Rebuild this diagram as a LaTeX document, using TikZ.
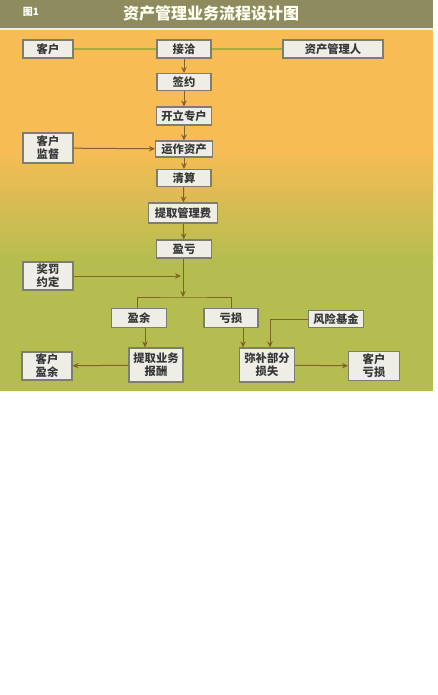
\documentclass[tikz,border=0pt]{standalone}
\usepackage{fontspec}
\newfontfamily\cjk{Noto Sans CJK SC}
\usetikzlibrary{arrows.meta}
\definecolor{banner}{HTML}{8E8C5E}
\definecolor{orng}{HTML}{F8BC55}
\definecolor{grn}{HTML}{B5BD50}
\definecolor{boxfill}{HTML}{EEEEE6}
\definecolor{boxline}{HTML}{7E7E70}
\definecolor{connc}{HTML}{806428}
\definecolor{topline}{HTML}{A8AC3C}
\definecolor{txt}{HTML}{383838}
\begin{document}
\begin{tikzpicture}[x=1pt,y=-1pt,
  box/.style={draw=boxline, fill=boxfill, line width=1.1pt, inner sep=0pt,
    font=\cjk\bfseries\fontsize{11.3}{13}\selectfont, text=txt, align=center},
  conn/.style={draw=connc, line width=1pt},
  arr/.style={conn, -{Stealth[length=6pt,width=5.5pt]}}]
\useasboundingbox (0,0) rectangle (437,695);
\fill[white] (0,0) rectangle (437,695);
% background
\fill[banner] (0,0) rectangle (433,28);
\fill[orng] (0,30) rectangle (433,150);
\shade[top color=orng, bottom color=grn] (0,149.5) rectangle (433,260.5);
\fill[grn] (0,260) rectangle (433,391);
\fill[white!85!banner] (0,28) rectangle (433,30);
% titles
\node[font=\cjk\bfseries\fontsize{10}{11}\selectfont, text=white] (fig) at (31,12) {图1};
\node[font=\cjk\bfseries\fontsize{16}{18}\selectfont, text=white!95!yellow] (title) at (211,13) {资产管理业务流程设计图};
% nodes
\node[box, minimum width=50pt, minimum height=18pt] (kehu) at (48,49) {客户};
\node[box, minimum width=54pt, minimum height=18pt] (jieqia) at (184,49) {接洽};
\node[box, minimum width=100pt, minimum height=18pt] (zcgl) at (333,49) {资产管理人};
\node[box, minimum width=54pt, minimum height=17pt] (qianyue) at (184,82) {签约};
\node[box, minimum width=55pt, minimum height=18pt] (kaili) at (184,116) {开立专户};
\node[box, minimum width=57pt, minimum height=16pt] (yunzuo) at (184,149) {运作资产};
\node[box, minimum width=50pt, minimum height=30pt] (jiandu) at (48,148) {客户\\监督};
\node[box, minimum width=54pt, minimum height=17pt] (qingsuan) at (184,178) {清算};
\node[box, minimum width=69pt, minimum height=20pt] (glf) at (183,213) {提取管理费};
\node[box, minimum width=55pt, minimum height=18pt] (yingkui) at (184,249) {盈亏};
\node[box, minimum width=50pt, minimum height=28pt] (jiangfa) at (48,276) {奖罚\\约定};
\node[box, minimum width=55pt, minimum height=19pt] (yingyu) at (139,318) {盈余};
\node[box, minimum width=54pt, minimum height=19pt] (kuisun) at (231,318) {亏损};
\node[box, minimum width=55pt, minimum height=17pt] (fengxian) at (336,319) {风险基金};
\node[box, minimum width=50pt, minimum height=28pt] (khyy) at (47,366) {客户\\盈余};
\node[box, minimum width=54pt, minimum height=34pt] (baochou) at (156,365) {提取业务\\报酬};
\node[box, minimum width=55pt, minimum height=34pt] (mibu) at (267,365) {弥补部分\\损失};
\node[box, minimum width=51pt, minimum height=29pt] (khks) at (374,366) {客户\\亏损};
% connectors
\draw[conn, draw=topline, line width=1.2pt] (kehu) -- (jieqia);
\draw[conn, draw=topline, line width=1.2pt] (jieqia) -- (zcgl);
\draw[arr] (jieqia) -- (qianyue);
\draw[arr] (qianyue) -- (kaili);
\draw[arr] (kaili) -- (yunzuo);
\draw[arr] (jiandu) -- (yunzuo);
\draw[arr] (yunzuo) -- (qingsuan);
\draw[arr] (qingsuan) -- (glf);
\draw[arr] (glf) -- (yingkui);
\coordinate (junc) at (183,297);
\coordinate (jfend) at (181,276);
\draw[arr] (yingkui.south -| junc) -- (junc);
\draw[arr] (jiangfa) -- (jfend);
\draw[conn] (yingyu.north -| 137,0) |- (junc) -| (kuisun.north);
\draw[arr] ([xshift=6pt]yingyu.south) -- ([xshift=6pt]yingyu.south |- baochou.north);
\draw[arr] ([xshift=12pt]kuisun.south) -- ([xshift=12pt]kuisun.south |- mibu.north);
\draw[arr] (fengxian.west) -| ([xshift=3pt]mibu.north);
\draw[arr] (baochou) -- (khyy);
\draw[arr] (mibu) -- (khks);
\end{tikzpicture}
\end{document}
